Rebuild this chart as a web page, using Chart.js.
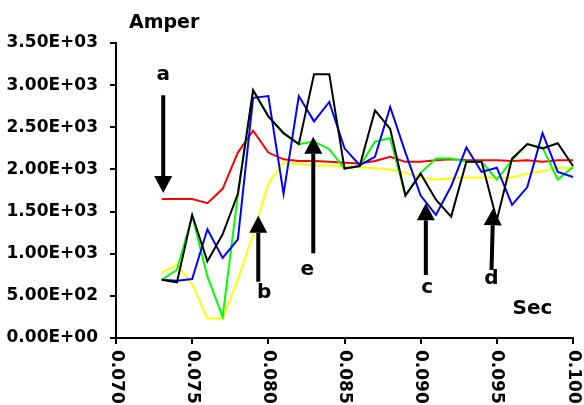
<!DOCTYPE html>
<html>
<head>
<meta charset="utf-8">
<script src="https://cdn.jsdelivr.net/npm/chart.js@4.4.1/dist/chart.umd.min.js"></script>
<style>
  html, body { margin: 0; padding: 0; background: #fff; }
  #wrap { width: 584px; height: 405px; position: relative; }
</style>
</head>
<body>
<div id="wrap"><canvas id="currentChart"></canvas></div>
<script>
// time samples (s) and measured currents (A)
const secs = [0.073, 0.074, 0.075, 0.076, 0.077, 0.078, 0.079, 0.080, 0.081, 0.082,
              0.083, 0.084, 0.085, 0.086, 0.087, 0.088, 0.089, 0.090, 0.091, 0.092,
              0.093, 0.094, 0.095, 0.096, 0.097, 0.098, 0.099, 0.100, 0.101];

const redAmps    = [1650, 1650, 1650, 1600, 1770, 2200, 2460, 2200, 2120, 2100,
                    2100, 2090, 2080, 2070, 2100, 2150, 2090, 2090, 2110, 2120,
                    2110, 2110, 2110, 2100, 2110, 2090, 2110, 2110, 2120];
const yellowAmps = [775, 870, 640, 230, 230, 690, 1230, 1830, 2085, 2065,
                    2050, 2045, 2035, 2025, 2015, 2000, 1960, 1900, 1880, 1895,
                    1905, 1905, 1900, 1905, 1950, 1980, 2020, 2010, 2040];
const greenAmps  = [690, 810, 1450, 730, 250, 1700, 2940, 2630, 2430, 2300,
                    2330, 2240, 2010, 2040, 2330, 2370, 1690, 1960, 2130, 2130,
                    2090, 2090, 1880, 2110, 2300, 2260, 1880, 2030, 2130];
const blueAmps   = [690, 680, 700, 1290, 950, 1170, 2850, 2870, 1710, 2870,
                    2570, 2800, 2250, 2050, 2150, 2740, 2200, 1690, 1460, 1800,
                    2260, 1970, 2020, 1580, 1790, 2430, 1970, 1910, 1900];
const blackAmps  = [690, 660, 1460, 910, 1230, 1710, 2940, 2630, 2430, 2300,
                    3130, 3130, 2010, 2040, 2700, 2480, 1690, 1950, 1640, 1440,
                    2090, 2090, 1400, 2130, 2300, 2250, 2310, 2040, 2140];

const xTicks = [0.070, 0.075, 0.080, 0.085, 0.090, 0.095, 0.100];
const yTicks = [0, 500, 1000, 1500, 2000, 2500, 3000, 3500];

// arrows: [label, tailSec, tailAmp, tipSec, tipAmp, labelSec, labelAmp]
const markers = [
  ['a', 0.0731, 2880, 0.0731, 1720, 0.0731, 3120],
  ['b', 0.07934, 668, 0.07934, 1451, 0.07973, 534],
  ['e', 0.08295, 1005, 0.08295, 2388, 0.08255, 807],
  ['c', 0.09034, 747, 0.09034, 1598, 0.09043, 590],
  ['d', 0.09465, 807, 0.09476, 1539, 0.09465, 708]
];

const tickFont = 'bold 17px "DejaVu Sans"';

function sciLabel(v) {
  const parts = Number(v).toExponential(2).split('e');
  const sign = parts[1][0];
  const exp = parts[1].slice(1).padStart(2, '0');
  return parts[0] + 'E' + sign + exp;
}

function series(values, color, order) {
  return {
    data: secs.map((s, i) => ({ x: s, y: values[i] })),
    borderColor: color,
    borderWidth: 2,
    pointRadius: 0,
    tension: 0,
    fill: false,
    clip: false,
    order: order
  };
}

// rotated x labels, axis titles, arrows and letters
const overlay = {
  id: 'overlay',
  afterDraw(chart) {
    const ctx = chart.ctx;
    const xs = chart.scales.x;
    const ys = chart.scales.y;
    const area = chart.chartArea;

    ctx.save();
    ctx.fillStyle = '#000';
    ctx.font = tickFont;
    ctx.textAlign = 'left';
    ctx.textBaseline = 'middle';
    xTicks.forEach(v => {
      ctx.save();
      ctx.translate(xs.getPixelForValue(v), area.bottom + 12);
      ctx.rotate(Math.PI / 2);
      ctx.fillText(v.toFixed(3), 0, 0);
      ctx.restore();
    });

    ctx.font = 'bold 19px "DejaVu Sans"';
    ctx.fillText('Amper', area.left + 13, area.top - 20);

    ctx.font = 'bold 20px "DejaVu Sans"';
    ctx.textAlign = 'center';
    ctx.fillText('Sec', xs.getPixelForValue(0.09734), ys.getPixelForValue(352));

    markers.forEach(m => {
      const x0 = xs.getPixelForValue(m[1]), y0 = ys.getPixelForValue(m[2]);
      const x1 = xs.getPixelForValue(m[3]), y1 = ys.getPixelForValue(m[4]);
      const ang = Math.atan2(y1 - y0, x1 - x0);
      const headLen = 17, headHalf = 9;
      const bx = x1 - headLen * Math.cos(ang), by = y1 - headLen * Math.sin(ang);

      ctx.strokeStyle = '#000';
      ctx.lineWidth = 4;
      ctx.beginPath();
      ctx.moveTo(x0, y0);
      ctx.lineTo(bx, by);
      ctx.stroke();

      ctx.beginPath();
      ctx.moveTo(x1, y1);
      ctx.lineTo(bx + headHalf * Math.sin(ang), by - headHalf * Math.cos(ang));
      ctx.lineTo(bx - headHalf * Math.sin(ang), by + headHalf * Math.cos(ang));
      ctx.closePath();
      ctx.fill();

      ctx.fillText(m[0], xs.getPixelForValue(m[5]), ys.getPixelForValue(m[6]));
    });
    ctx.restore();
  }
};

new Chart(document.getElementById('currentChart'), {
  type: 'line',
  data: {
    datasets: [
      series(blackAmps, '#000000', 0),
      series(blueAmps, '#0000ff', 1),
      series(greenAmps, '#00ff00', 2),
      series(redAmps, '#ff0000', 3),
      series(yellowAmps, '#ffff00', 4)
    ]
  },
  options: {
    responsive: true,
    maintainAspectRatio: false,
    animation: false,
    layout: { padding: { top: 43, right: 11, left: 0, bottom: 0 } },
    plugins: { legend: { display: false }, tooltip: { enabled: false } },
    scales: {
      x: {
        type: 'linear',
        min: 0.07,
        max: 0.1,
        afterBuildTicks: s => { s.ticks = xTicks.map(v => ({ value: v })); },
        afterFit: s => { s.height = 67; },
        ticks: { display: false },
        grid: { drawOnChartArea: false, drawTicks: true, tickLength: 6, color: '#000', lineWidth: 2 },
        border: { display: true, color: '#000', width: 2 }
      },
      y: {
        min: 0,
        max: 3500,
        afterBuildTicks: s => { s.ticks = yTicks.map(v => ({ value: v })); },
        afterFit: s => { s.width = 116; },
        ticks: {
          color: '#000',
          font: { family: 'DejaVu Sans', size: 17, weight: 'bold' },
          padding: 12,
          callback: v => sciLabel(v)
        },
        grid: { drawOnChartArea: false, drawTicks: true, tickLength: 6, color: '#000', lineWidth: 2 },
        border: { display: true, color: '#000', width: 2 }
      }
    }
  },
  plugins: [overlay]
});
</script>
</body>
</html>
